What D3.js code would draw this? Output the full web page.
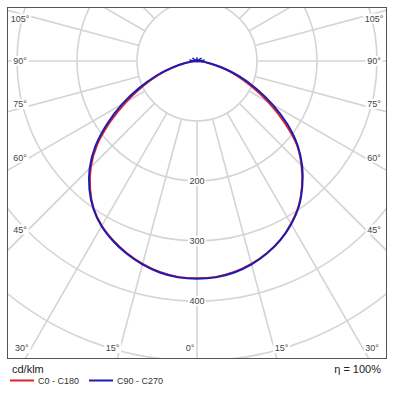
<!DOCTYPE html>
<html><head><meta charset="utf-8">
<script src="https://cdn.jsdelivr.net/npm/d3@7"></script>
<style>
body{margin:0;background:#fff;}
svg{display:block;font-family:"Liberation Sans",Arial,Helvetica,sans-serif;}
</style>
</head><body>
<svg id="c" width="399" height="393"></svg>
<script>
// ---- data ----
const gammaAngles = [0,5,10,15,20,25,30,35,40,45,50,55,60,65,70,75,80,85,90];
const c0c180Left  = [362,361,357,350,341,330,317,300,277,250,217,176,136,99,69,41,19,6,0];
const c0c180Right = [362,361,357,350,341,329,313,295,272,246,217,177,137,100,70,42,20,6,0];
const c90c270Left  = [363,362,358,351,342,331,318,301,279,253,221,183,144,106,73,43,20,7,0];
const c90c270Right = [363,362,358,351,341,329,314,296,273,248,219,184,146,109,76,45,21,7,0];
const upperAngles = [90,96,106,122,150,180];
const c90c270Upper = [0,13,1,9,1,6];
const ringValues = [100,200,300,400,500,600];
const ringLabelValues = [200,300,400];
const spokeAngles = [0,15,30,45,60,75,90,105,120,135,150,165,180];
const angleLabelValues = [0,15,30,45,60,75,90,105];
const seriesNames = ["C0 - C180","C90 - C270"];
const seriesColors = ["#e3202a","#1c1cb0"];
const unitLabel = "cd/klm";
const efficiencyLabel = "η = 100%";

// ---- layout ----
const svg = d3.select("#c");
const frame = {x0:7, y0:7, x1:387, y1:359};
const cx = 197, cy = 61;
const r = d3.scaleLinear().domain([0,100]).range([0,60]);
const rad = d3.scaleLinear().domain([0,180]).range([0,Math.PI]);
const px = (g,v,side)=> cx + side * r(v) * Math.sin(rad(g));
const py = (g,v)=> cy + r(v) * Math.cos(rad(g));

svg.append("defs").append("clipPath").attr("id","clip")
  .append("rect").attr("x",frame.x0).attr("y",frame.y0)
  .attr("width",frame.x1-frame.x0).attr("height",frame.y1-frame.y0);

const grid = svg.append("g").attr("clip-path","url(#clip)")
  .attr("stroke","#d4d4d4").attr("stroke-width",1.6).attr("fill","none");

// rings
grid.selectAll("circle.ring").data(ringValues).join("circle")
  .attr("cx",cx).attr("cy",cy).attr("r",d=>r(d));

// spokes
const spokes = [];
spokeAngles.forEach(a=>{
  spokes.push({a,side:-1});
  if(a!==0 && a!==180) spokes.push({a,side:1});
});
grid.selectAll("line.spoke").data(spokes).join("line")
  .attr("x1",d=>px(d.a,ringValues[0],d.side)).attr("y1",d=>py(d.a,ringValues[0]))
  .attr("x2",d=>px(d.a,1000,d.side)).attr("y2",d=>py(d.a,1000));

// label helper with white background
function boxedText(g, x, y, txt, size){
  const t = g.append("text").attr("x",x).attr("y",y)
    .attr("text-anchor","middle").attr("dominant-baseline","central")
    .attr("font-size",size).attr("fill","#444").text(txt);
  const b = t.node().getBBox();
  g.insert("rect","text:last-of-type").attr("x",b.x-1.5).attr("y",b.y)
    .attr("width",b.width+3).attr("height",b.height).attr("fill","#fff");
  t.raise();
}

// radial labels
const labG = svg.append("g");
ringLabelValues.forEach(v=>{
  boxedText(labG, cx, py(0,v), String(v), 9);
});

// angle labels: ray intersection with inset rectangle
const inset = {x0:20, x1:374, y1:348};
angleLabelValues.forEach(a=>{
  const adj = a===90 ? 90 : (a<90 ? a+1.4 : a-1.5);
  const s = Math.sin(rad(adj)), c = Math.cos(rad(adj));
  [-1,1].forEach(side=>{
    if(a===0 && side===1) return;
    let t = Infinity;
    if(s>1e-6) t = Math.min(t, (cx-inset.x0)/s);
    if(c>1e-6) t = Math.min(t, (inset.y1-cy)/c);
    const x = cx + side*t*s, y = cy + t*c;
    boxedText(labG, x, y, a+"°", 9);
  });
});

// frame
svg.append("rect").attr("x",frame.x0+0.5).attr("y",frame.y0+0.5)
  .attr("width",frame.x1-frame.x0-1).attr("height",frame.y1-frame.y0-1)
  .attr("fill","none").attr("stroke","#555").attr("stroke-width",1);

// curves
function pts(left,right){
  const p=[];
  for(let i=gammaAngles.length-1;i>=0;i--) p.push([px(gammaAngles[i],left[i],-1),py(gammaAngles[i],left[i])]);
  for(let i=1;i<gammaAngles.length;i++) p.push([px(gammaAngles[i],right[i],1),py(gammaAngles[i],right[i])]);
  return p;
}
const line = d3.line().curve(d3.curveCatmullRom.alpha(0.5));
const curveG = svg.append("g").attr("fill","none").attr("clip-path","url(#clip)");
curveG.append("path").attr("d",line(pts(c0c180Left,c0c180Right)))
  .attr("stroke",seriesColors[0]).attr("stroke-width",1.8);
curveG.append("path").attr("d",line(pts(c90c270Left,c90c270Right)))
  .attr("stroke",seriesColors[1]).attr("stroke-width",2);
// small upper lobe (near-zero values above horizontal)
const up=[];
for(let i=upperAngles.length-1;i>=0;i--) up.push([px(upperAngles[i],c90c270Upper[i],-1),py(upperAngles[i],c90c270Upper[i])]);
for(let i=1;i<upperAngles.length;i++) up.push([px(upperAngles[i],c90c270Upper[i],1),py(upperAngles[i],c90c270Upper[i])]);
curveG.append("path").attr("d",d3.line()(up)).attr("stroke",seriesColors[1]).attr("stroke-width",1.3);

// legend
svg.append("text").attr("x",12).attr("y",373).attr("font-size",11).attr("fill","#222").text(unitLabel);
svg.append("text").attr("x",381).attr("y",373).attr("text-anchor","end").attr("font-size",11).attr("fill","#222").text(efficiencyLabel);
const legX = [10, 89];
seriesNames.forEach((n,i)=>{
  svg.append("line").attr("x1",legX[i]).attr("x2",legX[i]+24).attr("y1",380.5).attr("y2",380.5)
    .attr("stroke",seriesColors[i]).attr("stroke-width",2);
  svg.append("text").attr("x",legX[i]+28).attr("y",383.5).attr("font-size",9).attr("fill","#333").text(n);
});
</script>
</body></html>
